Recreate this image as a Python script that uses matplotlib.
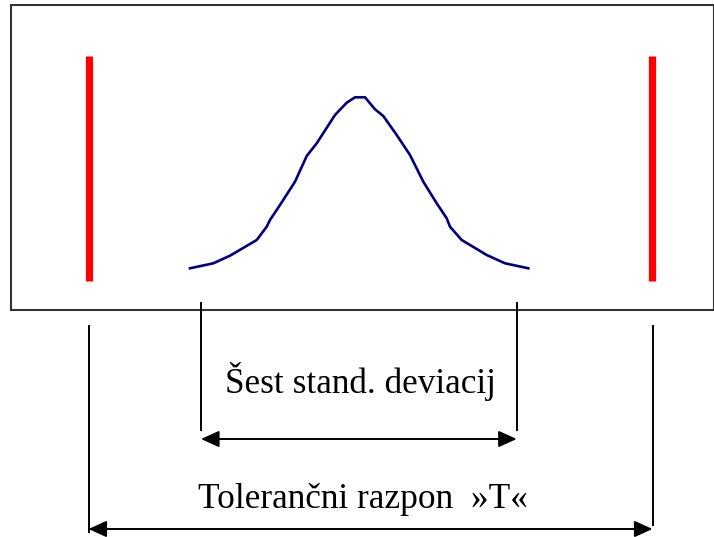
import matplotlib
matplotlib.use("Agg")
import matplotlib.pyplot as plt
from matplotlib.patches import Rectangle, FancyArrowPatch

# ---- data (pixel-space diagram coordinates) ----
curve_x = [190, 213.3, 230, 256.7, 266.7, 270, 280, 295, 306.7, 316.7, 335, 346.7,
           355, 365, 375, 383.3, 396.7, 410, 423.3, 436.7, 446.7, 450, 461.7, 486.7,
           505, 528.3]
curve_y = [268.3, 263.3, 255.7, 240, 226.7, 220, 205, 181.7, 156, 143.3, 115, 102.7,
           97.3, 97.3, 109.3, 116, 135, 155, 181.7, 203.3, 218.3, 226.7, 240, 255,
           263.3, 268.3]
limit_x = [88.5, 652]           # tolerance limits (red lines)
limit_y = [56, 281]
box = [11, 5, 714, 310]         # left, top, right, bottom
sigma_x = [201, 516.7]          # six standard deviations
tol_x = [88.5, 652.5]
label_six = "Šest stand. deviacij"
label_tol = "Tolerančni razpon  »T«"

W, H = 714, 537
fig = plt.figure(figsize=(W / 100, H / 100), dpi=100)
ax = fig.add_axes([0, 0, 1, 1])
ax.set_xlim(0, W)
ax.set_ylim(H, 0)
ax.axis("off")

# frame
ax.add_patch(Rectangle((box[0], box[1]), box[2] - box[0], box[3] - box[1],
                       fill=False, edgecolor="#333333", linewidth=1.5))

# red limit lines
for x in limit_x:
    ax.plot([x, x], limit_y, color="#ff0000", linewidth=5.2, solid_capstyle="butt")

# bell curve
ax.plot(curve_x, curve_y, color="#000080", linewidth=1.9)

# vertical extension lines
for x in sigma_x:
    ax.plot([x, x], [303, 430], color="black", linewidth=1.4)
ax.plot([tol_x[0], tol_x[0]], [326, 532], color="black", linewidth=1.4)
ax.plot([tol_x[1], tol_x[1]], [326, 525], color="black", linewidth=1.4)

# arrows
def darrow(x0, x1, y):
    a = FancyArrowPatch((x0, y), (x1, y),
                        arrowstyle="<|-|>,head_length=11,head_width=5",
                        mutation_scale=1, shrinkA=0, shrinkB=0,
                        color="black", linewidth=1.4)
    ax.add_patch(a)

darrow(sigma_x[0], sigma_x[1], 439)
darrow(tol_x[0], tol_x[1], 529)

ax.text(360, 393, label_six, family="Liberation Serif", fontsize=25.4,
        ha="center", va="baseline", color="black")
ax.text(362.5, 508, label_tol, family="Liberation Serif", fontsize=25.4,
        ha="center", va="baseline", color="black")

fig.savefig("out.png", dpi=100)
